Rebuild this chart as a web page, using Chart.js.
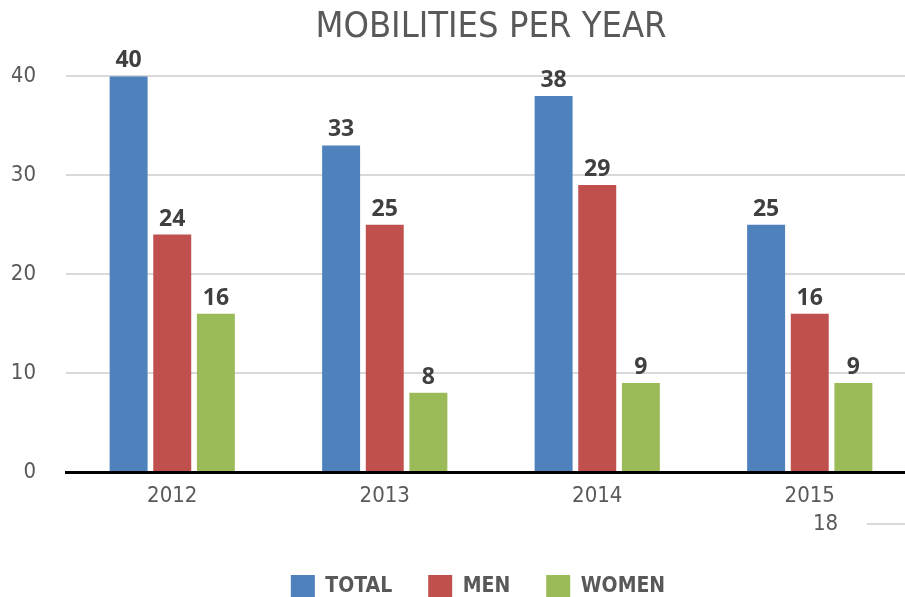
<!DOCTYPE html>
<html>
<head>
<meta charset="utf-8">
<script src="https://cdn.jsdelivr.net/npm/chart.js@4.4.0/dist/chart.umd.min.js"></script>
<style>
  html, body { margin: 0; padding: 0; background: #fff; overflow: hidden; }
  #wrap { position: relative; width: 916px; height: 597px; }
  #pageNo { position: absolute; left: 813px; top: 512px; font: 22px/22px "DejaVu Sans Condensed", sans-serif; color: #595959; }
  #pageLine { position: absolute; left: 867px; top: 523px; width: 40px; height: 2px; background: #d9d9d9; }
</style>
</head>
<body>
<div id="wrap">
  <canvas id="myChart" width="916" height="597"></canvas>
  <div id="pageNo">18</div>
  <div id="pageLine"></div>
</div>
<script>
var years = ['2012', '2013', '2014', '2015'];
var total = [40, 33, 38, 25];
var men = [24, 25, 29, 16];
var women = [16, 8, 9, 9];
var yTicks = [0, 10, 20, 30, 40];

var narrow = '"DejaVu Sans Condensed", sans-serif';

// value labels above every bar
var barLabels = {
  id: 'barLabels',
  afterDatasetsDraw: function(chart) {
    var ctx = chart.ctx;
    ctx.save();
    ctx.font = 'bold 23px "Open Sans", "DejaVu Sans", sans-serif';
    ctx.fillStyle = '#404040';
    ctx.textAlign = 'center';
    ctx.textBaseline = 'alphabetic';
    chart.data.datasets.forEach(function(ds, i) {
      chart.getDatasetMeta(i).data.forEach(function(bar, j) {
        ctx.fillText(ds.data[j], bar.x, bar.y - 9);
      });
    });
    ctx.restore();
  }
};

// legend sits a little left of the plot centre in the original
var legendShift = {
  id: 'legendShift',
  afterLayout: function(chart) {
    chart.legend.left -= 13;
    chart.legend.right -= 13;
  }
};

const ctx = document.getElementById('myChart').getContext('2d');
var myChart = new Chart(ctx, {
  type: 'bar',
  data: {
    labels: years,
    datasets: [
      { label: 'TOTAL', data: total, backgroundColor: '#4F81BD' },
      { label: 'MEN', data: men, backgroundColor: '#C0504D' },
      { label: 'WOMEN', data: women, backgroundColor: '#9BBB59' }
    ]
  },
  options: {
    responsive: false,
    animation: false,
    layout: { padding: { left: 12, right: 0, top: 0, bottom: -12 } },
    datasets: {
      bar: { categoryPercentage: 0.616, barPercentage: 0.87 }
    },
    plugins: {
      title: {
        display: true,
        text: 'MOBILITIES PER YEAR',
        fullSize: false,
        color: '#595959',
        font: { family: narrow, size: 36, weight: 'normal' },
        padding: { top: 6, bottom: 27 }
      },
      legend: {
        position: 'bottom',
        fullSize: false,
        labels: {
          boxWidth: 24,
          boxHeight: 24,
          padding: 36,
          color: '#595959',
          font: { family: narrow, size: 21, weight: 'bold' }
        }
      },
      tooltip: { enabled: false }
    },
    scales: {
      x: {
        grid: { display: false, drawTicks: false },
        border: { color: '#000000', width: 3 },
        ticks: { color: '#595959', padding: 11, font: { family: narrow, size: 22 } },
        afterFit: function(s) { s.height = 67; }
      },
      y: {
        min: 0,
        max: 40,
        afterBuildTicks: function(s) { s.ticks = yTicks.map(function(v) { return { value: v }; }); },
        grid: {
          drawTicks: false,
          color: function(c) { return c.tick && c.tick.value === 0 ? 'rgba(0,0,0,0)' : '#d9d9d9'; },
          lineWidth: 2
        },
        border: { display: false },
        ticks: { color: '#595959', padding: 30, font: { family: narrow, size: 22 } },
        afterFit: function(s) { s.width = 54; }
      }
    }
  },
  plugins: [barLabels, legendShift]
});
</script>
</body>
</html>
